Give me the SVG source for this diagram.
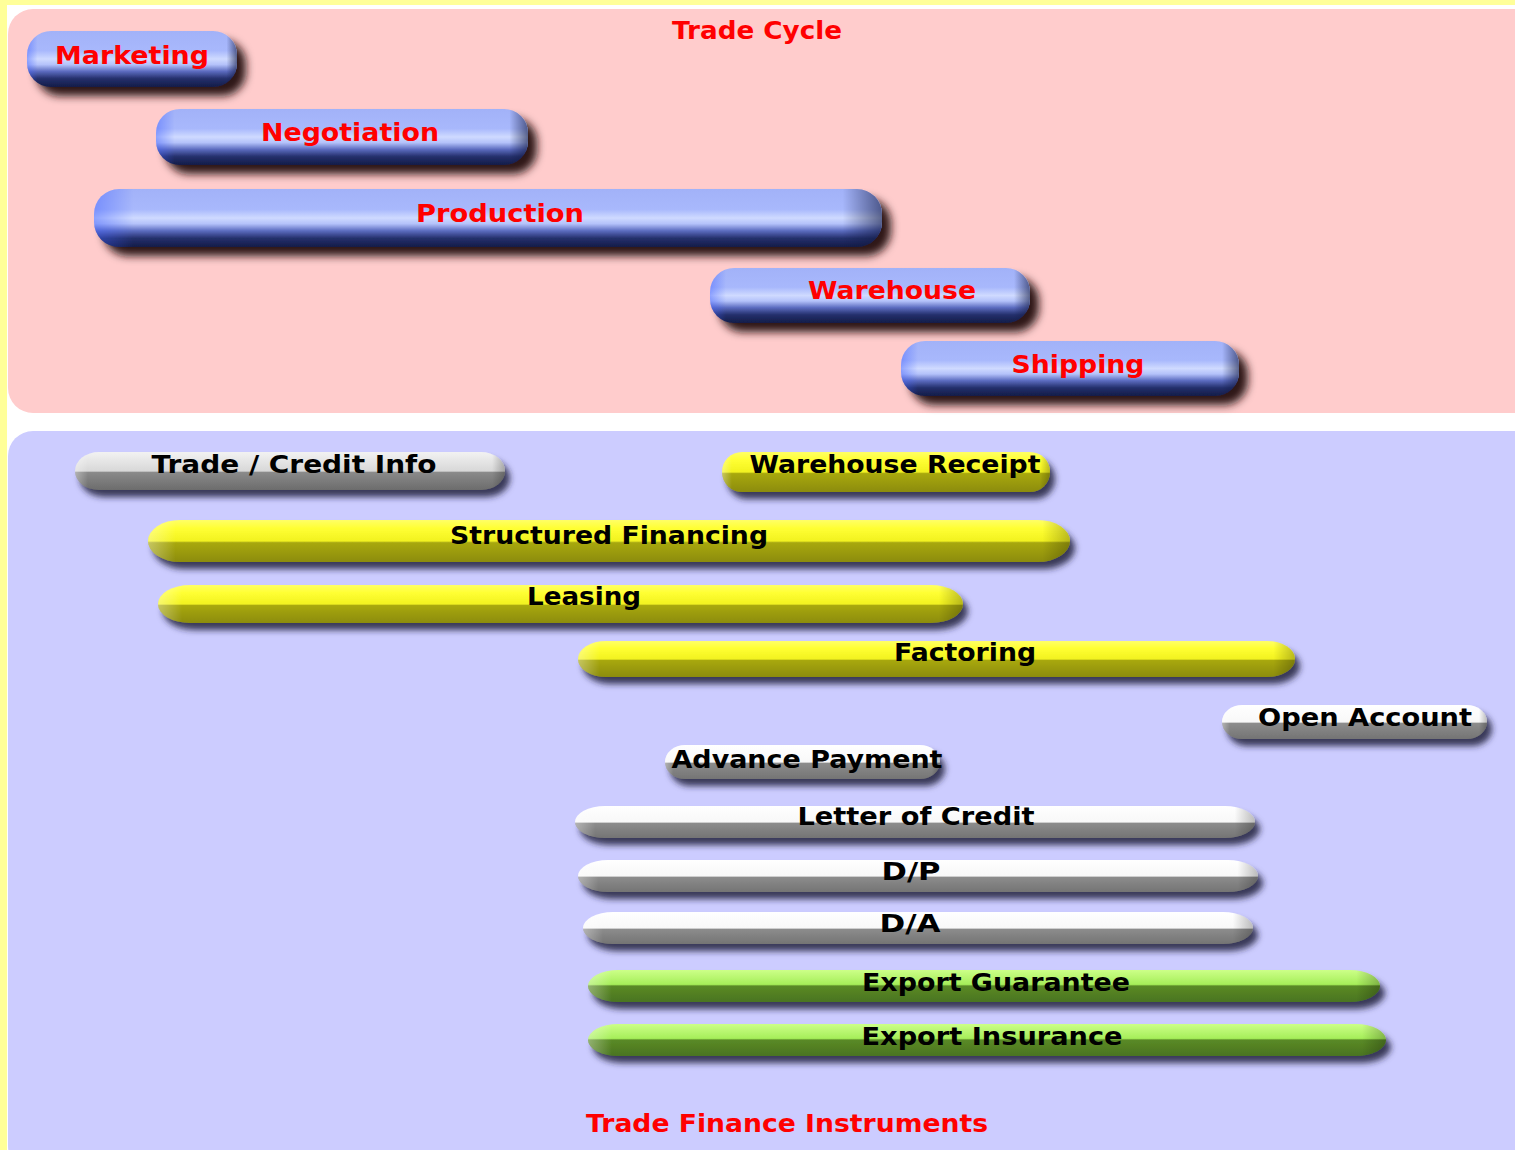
<svg xmlns="http://www.w3.org/2000/svg" width="1515" height="1150" viewBox="0 0 1515 1150">
<defs>
<style>
.bg{fill:#ffff99}
.t1{font-family:"DejaVu Sans",Verdana,sans-serif;font-weight:bold;font-size:25px;fill:#ff0000;text-anchor:middle}
.t2{font-family:"DejaVu Sans",Verdana,sans-serif;font-weight:bold;font-size:24px;fill:#000000;text-anchor:middle}
.bluepill{fill:url(#gBlue);filter:url(#shBig)}
.blueend{fill:url(#gBlueEnds)}
.yel{fill:url(#gYel);filter:url(#shSmall)}
.gry{fill:url(#gGry);filter:url(#shSmall)}
.wht{fill:url(#gWht);filter:url(#shSmall)}
.grn{fill:url(#gGrn);filter:url(#shSmall)}
.ends{fill:url(#gEnds)}
</style>
<linearGradient id="gBlue" x1="0" y1="0" x2="0" y2="1">
<stop offset="0" stop-color="#a2b2f8"/>
<stop offset="0.35" stop-color="#a8b8fc"/>
<stop offset="0.5" stop-color="#cfdaff"/>
<stop offset="0.6" stop-color="#b4c2fa"/>
<stop offset="0.72" stop-color="#5c6cc0"/>
<stop offset="0.85" stop-color="#24306c"/>
<stop offset="1" stop-color="#141c48"/>
</linearGradient>
<linearGradient id="gBlueEnds" x1="0" y1="0" x2="1" y2="0">
<stop offset="0" stop-color="#4060ff" stop-opacity="0.45"/>
<stop offset="0.05" stop-color="#4060ff" stop-opacity="0"/>
<stop offset="0.95" stop-color="#101840" stop-opacity="0"/>
<stop offset="1" stop-color="#101840" stop-opacity="0.6"/>
</linearGradient>
<linearGradient id="gYel" x1="0" y1="0" x2="0" y2="1">
<stop offset="0" stop-color="#ffff66"/>
<stop offset="0.2" stop-color="#ffff33"/>
<stop offset="0.5" stop-color="#f2f220"/>
<stop offset="0.54" stop-color="#a8a810"/>
<stop offset="1" stop-color="#8c8c08"/>
</linearGradient>
<linearGradient id="gGry" x1="0" y1="0" x2="0" y2="1">
<stop offset="0" stop-color="#f2f2f2"/>
<stop offset="0.5" stop-color="#d8d8d8"/>
<stop offset="0.54" stop-color="#8a8a8a"/>
<stop offset="1" stop-color="#6c6c6c"/>
</linearGradient>
<linearGradient id="gWht" x1="0" y1="0" x2="0" y2="1">
<stop offset="0" stop-color="#ffffff"/>
<stop offset="0.5" stop-color="#f8f8f8"/>
<stop offset="0.54" stop-color="#8c8c8c"/>
<stop offset="1" stop-color="#747474"/>
</linearGradient>
<linearGradient id="gGrn" x1="0" y1="0" x2="0" y2="1">
<stop offset="0" stop-color="#ccff88"/>
<stop offset="0.45" stop-color="#a6ee5a"/>
<stop offset="0.5" stop-color="#5a8a26"/>
<stop offset="1" stop-color="#4a7420"/>
</linearGradient>
<linearGradient id="gEnds" x1="0" y1="0" x2="1" y2="0">
<stop offset="0" stop-color="#ffffff" stop-opacity="0.35"/>
<stop offset="0.03" stop-color="#ffffff" stop-opacity="0"/>
<stop offset="0.97" stop-color="#000000" stop-opacity="0"/>
<stop offset="1" stop-color="#000000" stop-opacity="0.25"/>
</linearGradient>
<filter id="shBig" x="-10%" y="-30%" width="130%" height="190%">
<feGaussianBlur in="SourceAlpha" stdDeviation="4"/>
<feOffset dx="9" dy="9" result="b"/>
<feFlood flood-color="#241010" flood-opacity="0.95"/>
<feComposite in2="b" operator="in" result="s"/>
<feMerge><feMergeNode in="s"/><feMergeNode in="SourceGraphic"/></feMerge>
</filter>
<filter id="shSmall" x="-10%" y="-30%" width="130%" height="190%">
<feGaussianBlur in="SourceAlpha" stdDeviation="3"/>
<feOffset dx="5" dy="7" result="b"/>
<feFlood flood-color="#20203c" flood-opacity="0.85"/>
<feComposite in2="b" operator="in" result="s"/>
<feMerge><feMergeNode in="s"/><feMergeNode in="SourceGraphic"/></feMerge>
</filter>
</defs>

<rect class="bg" x="0" y="0" width="1515" height="1150"/>
<rect x="7" y="5" width="1508" height="1145" fill="#ffffff"/>

<g id="panel-trade-cycle">
<rect x="8" y="9" width="1530" height="404" rx="25" fill="#ffcccc"/>
<text class="t1" x="757" y="39" textLength="170" lengthAdjust="spacingAndGlyphs">Trade Cycle</text>
</g>
<g id="panel-instruments">
<rect x="8" y="431" width="1530" height="740" rx="25" fill="#ccccff"/>
<text class="t1" x="787" y="1132" textLength="402" lengthAdjust="spacingAndGlyphs">Trade Finance Instruments</text>
</g>

<g id="connectors"/>

<g id="marketing">
<rect class="bluepill" x="27" y="31" width="210" height="56" rx="24"/>
<rect class="blueend" x="27" y="31" width="210" height="56" rx="24"/>
<text class="t1" x="132" y="64" textLength="154" lengthAdjust="spacingAndGlyphs">Marketing</text>
</g>
<g id="negotiation">
<rect class="bluepill" x="156" y="109" width="372" height="56" rx="24"/>
<rect class="blueend" x="156" y="109" width="372" height="56" rx="24"/>
<text class="t1" x="350" y="141" textLength="178" lengthAdjust="spacingAndGlyphs">Negotiation</text>
</g>
<g id="production">
<rect class="bluepill" x="94" y="189" width="788" height="58" rx="25"/>
<rect class="blueend" x="94" y="189" width="788" height="58" rx="25"/>
<text class="t1" x="500" y="222" textLength="168" lengthAdjust="spacingAndGlyphs">Production</text>
</g>
<g id="warehouse">
<rect class="bluepill" x="710" y="268" width="320" height="55" rx="24"/>
<rect class="blueend" x="710" y="268" width="320" height="55" rx="24"/>
<text class="t1" x="892" y="299" textLength="168" lengthAdjust="spacingAndGlyphs">Warehouse</text>
</g>
<g id="shipping">
<rect class="bluepill" x="901" y="341" width="338" height="55" rx="24"/>
<rect class="blueend" x="901" y="341" width="338" height="55" rx="24"/>
<text class="t1" x="1078" y="373" textLength="133" lengthAdjust="spacingAndGlyphs">Shipping</text>
</g>

<g id="trade-credit-info">
<rect class="gry" x="75" y="452" width="430" height="38" rx="24" ry="19"/>
<rect class="ends" x="75" y="452" width="430" height="38" rx="24" ry="19"/>
<text class="t2" x="294" y="473" textLength="285" lengthAdjust="spacingAndGlyphs">Trade / Credit Info</text>
</g>
<g id="warehouse-receipt">
<rect class="yel" x="722" y="452" width="328" height="40" rx="20" ry="20"/>
<rect class="ends" x="722" y="452" width="328" height="40" rx="20" ry="20"/>
<text class="t2" x="895" y="473" textLength="291" lengthAdjust="spacingAndGlyphs">Warehouse Receipt</text>
</g>
<g id="structured-financing">
<rect class="yel" x="148" y="520" width="922" height="42" rx="32" ry="21"/>
<rect class="ends" x="148" y="520" width="922" height="42" rx="32" ry="21"/>
<text class="t2" x="609" y="544" textLength="318" lengthAdjust="spacingAndGlyphs">Structured Financing</text>
</g>
<g id="leasing">
<rect class="yel" x="158" y="585" width="805" height="38" rx="32" ry="19"/>
<rect class="ends" x="158" y="585" width="805" height="38" rx="32" ry="19"/>
<text class="t2" x="584" y="605" textLength="114" lengthAdjust="spacingAndGlyphs">Leasing</text>
</g>
<g id="factoring">
<rect class="yel" x="578" y="641" width="717" height="36" rx="28" ry="18"/>
<rect class="ends" x="578" y="641" width="717" height="36" rx="28" ry="18"/>
<text class="t2" x="965" y="661" textLength="142" lengthAdjust="spacingAndGlyphs">Factoring</text>
</g>
<g id="open-account">
<rect class="wht" x="1222" y="705" width="265" height="34" rx="20" ry="17"/>
<rect class="ends" x="1222" y="705" width="265" height="34" rx="20" ry="17"/>
<text class="t2" x="1365" y="726" textLength="214" lengthAdjust="spacingAndGlyphs">Open Account</text>
</g>
<g id="advance-payment">
<rect class="wht" x="665" y="745" width="275" height="34" rx="20" ry="17"/>
<rect class="ends" x="665" y="745" width="275" height="34" rx="20" ry="17"/>
<text class="t2" x="807" y="768" textLength="271" lengthAdjust="spacingAndGlyphs">Advance Payment</text>
</g>
<g id="letter-of-credit">
<rect class="wht" x="575" y="806" width="680" height="32" rx="30" ry="16"/>
<rect class="ends" x="575" y="806" width="680" height="32" rx="30" ry="16"/>
<text class="t2" x="916" y="825" textLength="237" lengthAdjust="spacingAndGlyphs">Letter of Credit</text>
</g>
<g id="d-p">
<rect class="wht" x="578" y="860" width="680" height="32" rx="30" ry="16"/>
<rect class="ends" x="578" y="860" width="680" height="32" rx="30" ry="16"/>
<text class="t2" x="911" y="880" textLength="59" lengthAdjust="spacingAndGlyphs">D/P</text>
</g>
<g id="d-a">
<rect class="wht" x="583" y="912" width="670" height="32" rx="30" ry="16"/>
<rect class="ends" x="583" y="912" width="670" height="32" rx="30" ry="16"/>
<text class="t2" x="910" y="932" textLength="61" lengthAdjust="spacingAndGlyphs">D/A</text>
</g>
<g id="export-guarantee">
<rect class="grn" x="588" y="970" width="792" height="32" rx="30" ry="16"/>
<rect class="ends" x="588" y="970" width="792" height="32" rx="30" ry="16"/>
<text class="t2" x="996" y="991" textLength="268" lengthAdjust="spacingAndGlyphs">Export Guarantee</text>
</g>
<g id="export-insurance">
<rect class="grn" x="588" y="1024" width="798" height="32" rx="30" ry="16"/>
<rect class="ends" x="588" y="1024" width="798" height="32" rx="30" ry="16"/>
<text class="t2" x="992" y="1045" textLength="261" lengthAdjust="spacingAndGlyphs">Export Insurance</text>
</g>
</svg>
